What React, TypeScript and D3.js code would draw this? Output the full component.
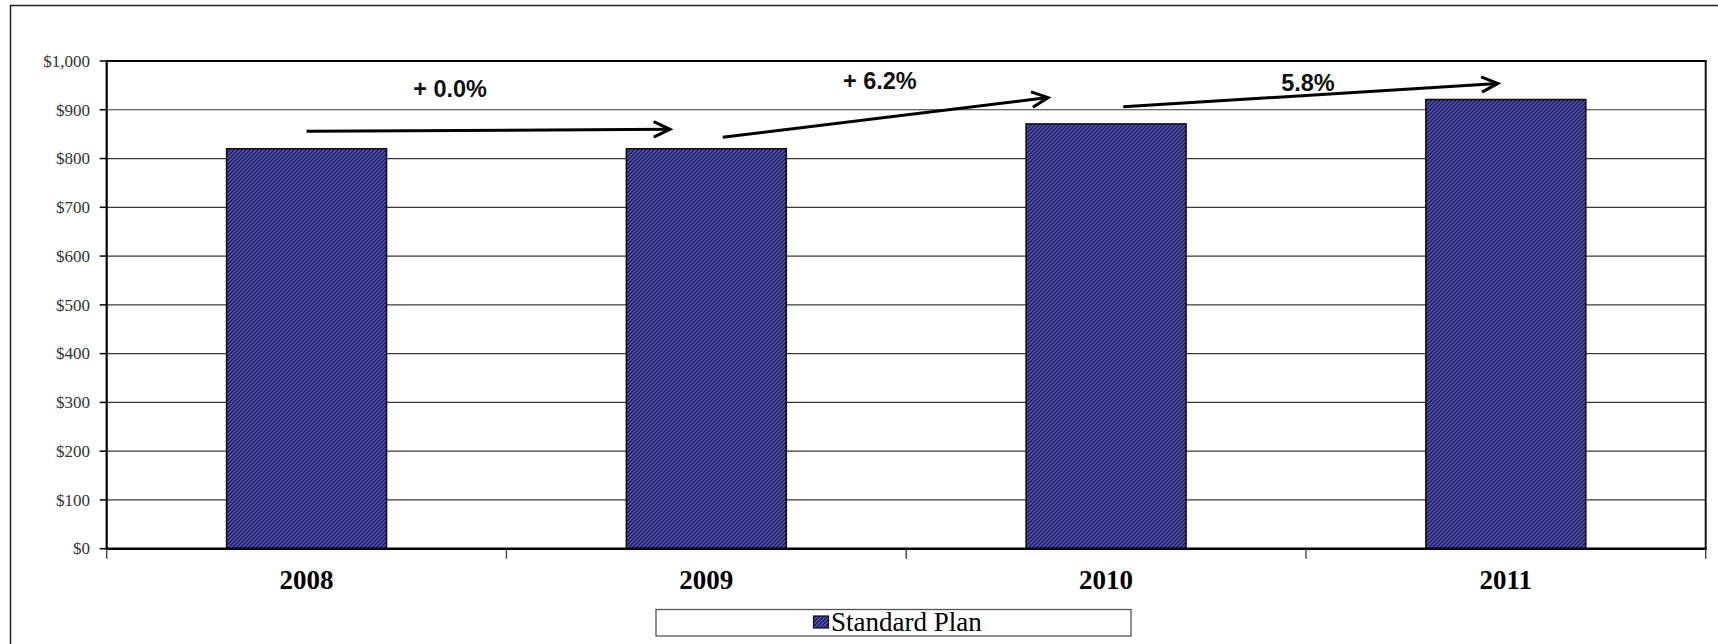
import React, { useEffect } from "react";
import * as d3 from "d3";

const categories = ["2008", "2009", "2010", "2011"];
const standardPlan = [820, 820, 871, 921];
const yTicks = [0, 100, 200, 300, 400, 500, 600, 700, 800, 900, 1000];
const seriesName = "Standard Plan";

// growth annotations: arrow start/end in (category position, value) and label anchor
const growthLabels = ["+ 0.0%", "+ 6.2%", "5.8%"];
const arrowFromPos = [0.5, 1.541, 2.543];
const arrowFromVal = [856, 843.5, 906];
const arrowToPos = [1.409, 2.355, 3.48];
const arrowToVal = [860, 925, 954];
const labelPos = [0.859, 1.934, 3.005];
const labelVal = [926.6, 942, 939];

const W = 1718;
const H = 644;
const left = 106.7;
const right = 1705.7;
const top = 61;
const bottom = 548.7;

export default function App() {
  useEffect(() => {
    document.body.style.margin = "0";
  }, []);

  const x = d3
    .scaleBand<string>()
    .domain(categories)
    .range([left, right])
    .paddingInner(0.6)
    .paddingOuter(0.3);
  const xPos = d3.scaleLinear().domain([0, categories.length]).range([left, right]);
  const y = d3.scaleLinear().domain([0, 1000]).range([bottom, top]);
  const fmt = (v: number) => "$" + d3.format(",")(v);

  const arrowHead = (x1: number, y1: number, x2: number, y2: number) => {
    const a = Math.atan2(y2 - y1, x2 - x1);
    const len = 18;
    const spread = 0.44;
    const p1 = [x2 - len * Math.cos(a - spread), y2 - len * Math.sin(a - spread)];
    const p2 = [x2 - len * Math.cos(a + spread), y2 - len * Math.sin(a + spread)];
    return `M${p1[0]},${p1[1]} L${x2},${y2} L${p2[0]},${p2[1]}`;
  };

  const boundaries = d3.range(categories.length + 1).map((i) => xPos(i));

  return (
    <svg width={W} height={H} style={{ display: "block" }}>
      <defs>
        <pattern id="hatch" width="4" height="4" patternUnits="userSpaceOnUse">
          <rect width="4" height="4" fill="#6464bc" />
          <path d="M-1,1 l2,-2 M0,4 l4,-4 M3,5 l2,-2" stroke="#1c1c66" strokeWidth="1.6" />
        </pattern>
      </defs>
      <rect x={0} y={0} width={W} height={H} fill="#fff" />
      {/* outer chart border */}
      <rect x={10.5} y={5.5} width={W + 20} height={H + 20} fill="none" stroke="#222" strokeWidth={1.5} />

      {/* gridlines */}
      {yTicks.slice(1, -1).map((t) => (
        <line key={t} x1={left} x2={right} y1={y(t)} y2={y(t)} stroke="#3a3a3a" strokeWidth={1.2} />
      ))}
      {/* plot frame top & right */}
      <line x1={left} x2={right + 1} y1={y(1000)} y2={y(1000)} stroke="#000" strokeWidth={2.2} />
      <line x1={right} x2={right} y1={y(1000)} y2={bottom} stroke="#111" strokeWidth={2} />

      {/* bars */}
      {categories.map((c, i) => (
        <rect
          key={c}
          x={x(c)}
          y={y(standardPlan[i])}
          width={x.bandwidth()}
          height={bottom - y(standardPlan[i])}
          fill="url(#hatch)"
          stroke="#111"
          strokeWidth={1.6}
        />
      ))}

      {/* y axis */}
      <line x1={left} x2={left} y1={y(1000) - 1} y2={bottom + 1} stroke="#000" strokeWidth={2.2} />
      {yTicks.map((t) => (
        <g key={t}>
          <line x1={left - 7} x2={left} y1={y(t)} y2={y(t)} stroke="#000" strokeWidth={1.5} />
          <text
            x={90}
            y={y(t)}
            dy="0.34em"
            textAnchor="end"
            fontFamily="'Liberation Serif', 'Times New Roman', serif"
            fontSize={17}
            fill="#333"
          >
            {fmt(t)}
          </text>
        </g>
      ))}

      {/* x axis */}
      <line x1={left - 1} x2={right + 1} y1={bottom} y2={bottom} stroke="#000" strokeWidth={2.5} />
      {boundaries.map((b, i) => (
        <line key={i} x1={b} x2={b} y1={bottom} y2={bottom + 10} stroke="#444" strokeWidth={1.4} />
      ))}
      {categories.map((c) => (
        <text
          key={c}
          x={(x(c) as number) + x.bandwidth() / 2}
          y={588.5}
          textAnchor="middle"
          fontFamily="'Liberation Serif', 'Times New Roman', serif"
          fontWeight="bold"
          fontSize={27}
          fill="#000"
        >
          {c}
        </text>
      ))}

      {/* growth arrows */}
      {growthLabels.map((lab, i) => {
        const x1 = xPos(arrowFromPos[i]);
        const y1 = y(arrowFromVal[i]);
        const x2 = xPos(arrowToPos[i]);
        const y2 = y(arrowToVal[i]);
        return (
          <g key={lab}>
            <line x1={x1} y1={y1} x2={x2} y2={y2} stroke="#000" strokeWidth={3} />
            <path d={arrowHead(x1, y1, x2, y2)} fill="none" stroke="#000" strokeWidth={3} />
            <text
              x={xPos(labelPos[i])}
              y={y(labelVal[i])}
              textAnchor="middle"
              fontFamily="'Liberation Sans', Arial, sans-serif"
              fontWeight="bold"
              fontSize={23.5}
              fill="#111"
            >
              {lab}
            </text>
          </g>
        );
      })}

      {/* legend */}
      <rect x={656} y={609.5} width={475} height={26.5} fill="#fff" stroke="#555" strokeWidth={1.3} />
      <rect x={813.5} y={616} width={15} height={12} fill="url(#hatch)" stroke="#111" strokeWidth={1.2} />
      <text
        x={831}
        y={630.5}
        fontFamily="'Liberation Serif', 'Times New Roman', serif"
        fontSize={27}
        fill="#000"
      >
        {seriesName}
      </text>
    </svg>
  );
}
